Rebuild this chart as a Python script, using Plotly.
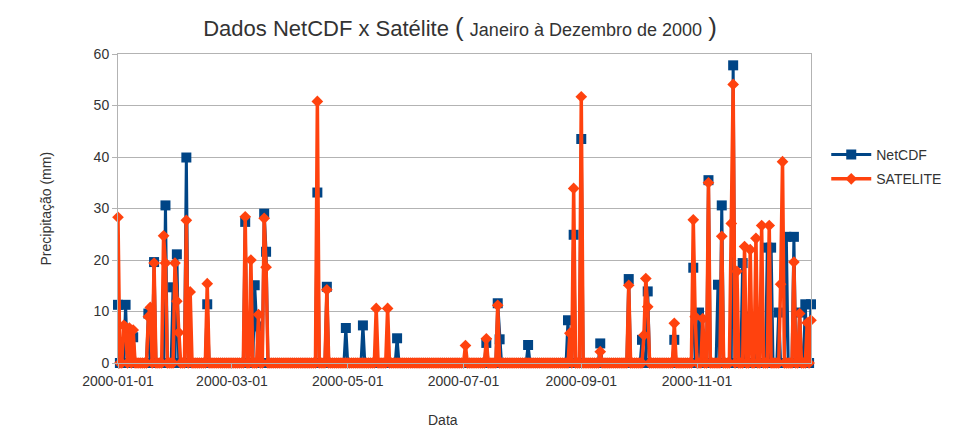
import pandas as pd
import plotly.graph_objects as go

# Rainy days of 2000 (every other day of the year is 0 mm in both series)
rain_dates = [
    "2000-01-01", "2000-01-04", "2000-01-05", "2000-01-07", "2000-01-09",
    "2000-01-17", "2000-01-18", "2000-01-20", "2000-01-25", "2000-01-26",
    "2000-01-30", "2000-01-31", "2000-02-01", "2000-02-02", "2000-02-06",
    "2000-02-08", "2000-02-17", "2000-03-08", "2000-03-11", "2000-03-13",
    "2000-03-14", "2000-03-15", "2000-03-18", "2000-03-19", "2000-04-15",
    "2000-04-20", "2000-04-30", "2000-05-09", "2000-05-16", "2000-05-22",
    "2000-05-27", "2000-07-02", "2000-07-13", "2000-07-19", "2000-07-20",
    "2000-08-04", "2000-08-25", "2000-08-26", "2000-08-28", "2000-09-01",
    "2000-09-11", "2000-09-26", "2000-10-03", "2000-10-04", "2000-10-05",
    "2000-10-06", "2000-10-20", "2000-10-30", "2000-10-31", "2000-11-02",
    "2000-11-04", "2000-11-07", "2000-11-12", "2000-11-14", "2000-11-19",
    "2000-11-20", "2000-11-22", "2000-11-25", "2000-11-26", "2000-11-27",
    "2000-11-29", "2000-12-02", "2000-12-03", "2000-12-05", "2000-12-08",
    "2000-12-09", "2000-12-10", "2000-12-14", "2000-12-15", "2000-12-16",
    "2000-12-18", "2000-12-22", "2000-12-25", "2000-12-28", "2000-12-29",
    "2000-12-31",
]

netcdf_mm = [
    11.3, 0.0, 11.3, 0.0, 5.0,
    9.6, 0.0, 19.6, 0.0, 30.6,
    14.7, 0.0, 21.1, 0.0, 39.9,
    0.0, 11.4, 27.4, 0.0, 15.1,
    7.1, 0.0, 29.0, 21.6, 33.1,
    14.8, 6.8, 7.3, 0.0, 0.0,
    4.8, 0.0, 3.9, 11.6, 4.6,
    3.5, 8.3, 0.0, 24.9, 43.5,
    3.8, 16.3, 4.5, 0.0, 0.0,
    13.9, 4.5, 18.5, 0.0, 9.8,
    0.0, 35.5, 15.2, 30.6, 0.0,
    57.8, 0.0, 19.4, 0.0, 9.0,
    0.0, 0.0, 6.2, 0.0, 22.4,
    0.0, 22.4, 9.8, 0.0, 0.0,
    24.5, 24.5, 9.8, 11.4, 0.0,
    11.4,
]

satelite_mm = [
    28.3, 7.3, 7.0, 6.8, 6.4,
    9.0, 10.8, 19.4, 24.7, 19.4,
    0.0, 19.4, 12.0, 5.9, 27.7,
    13.8, 15.4, 28.4, 20.0, 0.0,
    0.0, 9.4, 28.1, 18.6, 50.8,
    14.2, 0.0, 0.0, 10.6, 10.6,
    0.0, 3.4, 4.7, 11.2, 0.0,
    0.0, 0.0, 5.8, 33.9, 51.7,
    2.2, 15.1, 0.0, 5.4, 16.4,
    10.9, 7.7, 27.8, 9.0, 0.0,
    8.6, 35.0, 0.0, 24.6, 27.1,
    54.1, 17.8, 0.0, 22.6, 0.0,
    22.0, 24.2, 0.0, 26.7, 0.0,
    26.7, 0.0, 0.0, 15.3, 39.1,
    0.0, 19.6, 9.6, 0.0, 7.8,
    8.3,
]

series_names = ["NetCDF", "SATELITE"]
series_colors = ["#004586", "#ff420e"]

# Full daily calendar for 2000, dry days at 0 mm
days = pd.date_range("2000-01-01", "2000-12-31", freq="D")
wet = pd.to_datetime(rain_dates)
netcdf = pd.Series(0.0, index=days)
satelite = pd.Series(0.0, index=days)
netcdf.loc[wet] = netcdf_mm
satelite.loc[wet] = satelite_mm

fig = go.Figure()
fig.add_trace(go.Scatter(
    x=days, y=netcdf.values, name=series_names[0], mode="lines+markers",
    line=dict(color=series_colors[0], width=3),
    marker=dict(symbol="square", size=10, color=series_colors[0]),
    cliponaxis=False, legendgroup="a",
))
fig.add_trace(go.Scatter(
    x=days, y=satelite.values, name=series_names[1], mode="lines+markers",
    line=dict(color=series_colors[1], width=3.5),
    marker=dict(symbol="diamond", size=9, color=series_colors[1]),
    cliponaxis=False, legendgroup="b",
))

grey = "#b3b3b3"
font_family = "Liberation Sans, Arial, sans-serif"

fig.update_layout(
    width=959, height=427,
    margin=dict(l=118, r=148, t=54, b=64),
    paper_bgcolor="white", plot_bgcolor="white",
    font=dict(family=font_family, size=14, color="#333333"),
    title=dict(
        text=("Dados NetCDF x Satélite "
              "<span style='font-size:26px'>(</span> "
              "<span style='font-size:18px'>Janeiro à Dezembro de 2000</span> "
              "<span style='font-size:26px'>)</span>"),
        xref="container", x=460 / 959, xanchor="center",
        yref="container", y=1 - 28 / 427, yanchor="middle",
        font=dict(family=font_family, size=22, color="#333333"),
    ),
    showlegend=True,
    legend=dict(
        x=1.022, xanchor="left", y=0.725, yanchor="top",
        font=dict(family=font_family, size=14, color="#333333"),
        itemwidth=40, tracegroupgap=3, bgcolor="rgba(0,0,0,0)",
    ),
    annotations=[
        dict(text="Precipitação (mm)", xref="paper", yref="paper",
             x=(45 - 118) / 693, y=0.5, textangle=-90, showarrow=False,
             xanchor="center", yanchor="middle",
             font=dict(family=font_family, size=14, color="#333333")),
        dict(text="Data", xref="paper", yref="paper",
             x=(443 - 118) / 693, y=-(420 - 363) / 309, showarrow=False,
             xanchor="center", yanchor="middle",
             font=dict(family=font_family, size=14, color="#333333")),
    ],
)

fig.update_xaxes(
    type="date", range=["2000-01-01", "2000-12-31"],
    tick0="2000-01-01", dtick="M2", tickformat="%Y-%m-%d",
    showgrid=False, zeroline=False,
    showline=True, mirror=True, linecolor=grey, linewidth=1,
    ticks="outside", ticklen=5, tickcolor=grey,
    tickfont=dict(family=font_family, size=14, color="#333333"),
)
fig.update_yaxes(
    range=[0, 60], dtick=10, showgrid=True, gridcolor=grey, gridwidth=1,
    zeroline=False, showline=True, mirror=True, linecolor=grey, linewidth=1,
    ticks="outside", ticklen=5, tickcolor=grey,
    tickfont=dict(family=font_family, size=14, color="#333333"),
)

fig.write_html("out.html")
